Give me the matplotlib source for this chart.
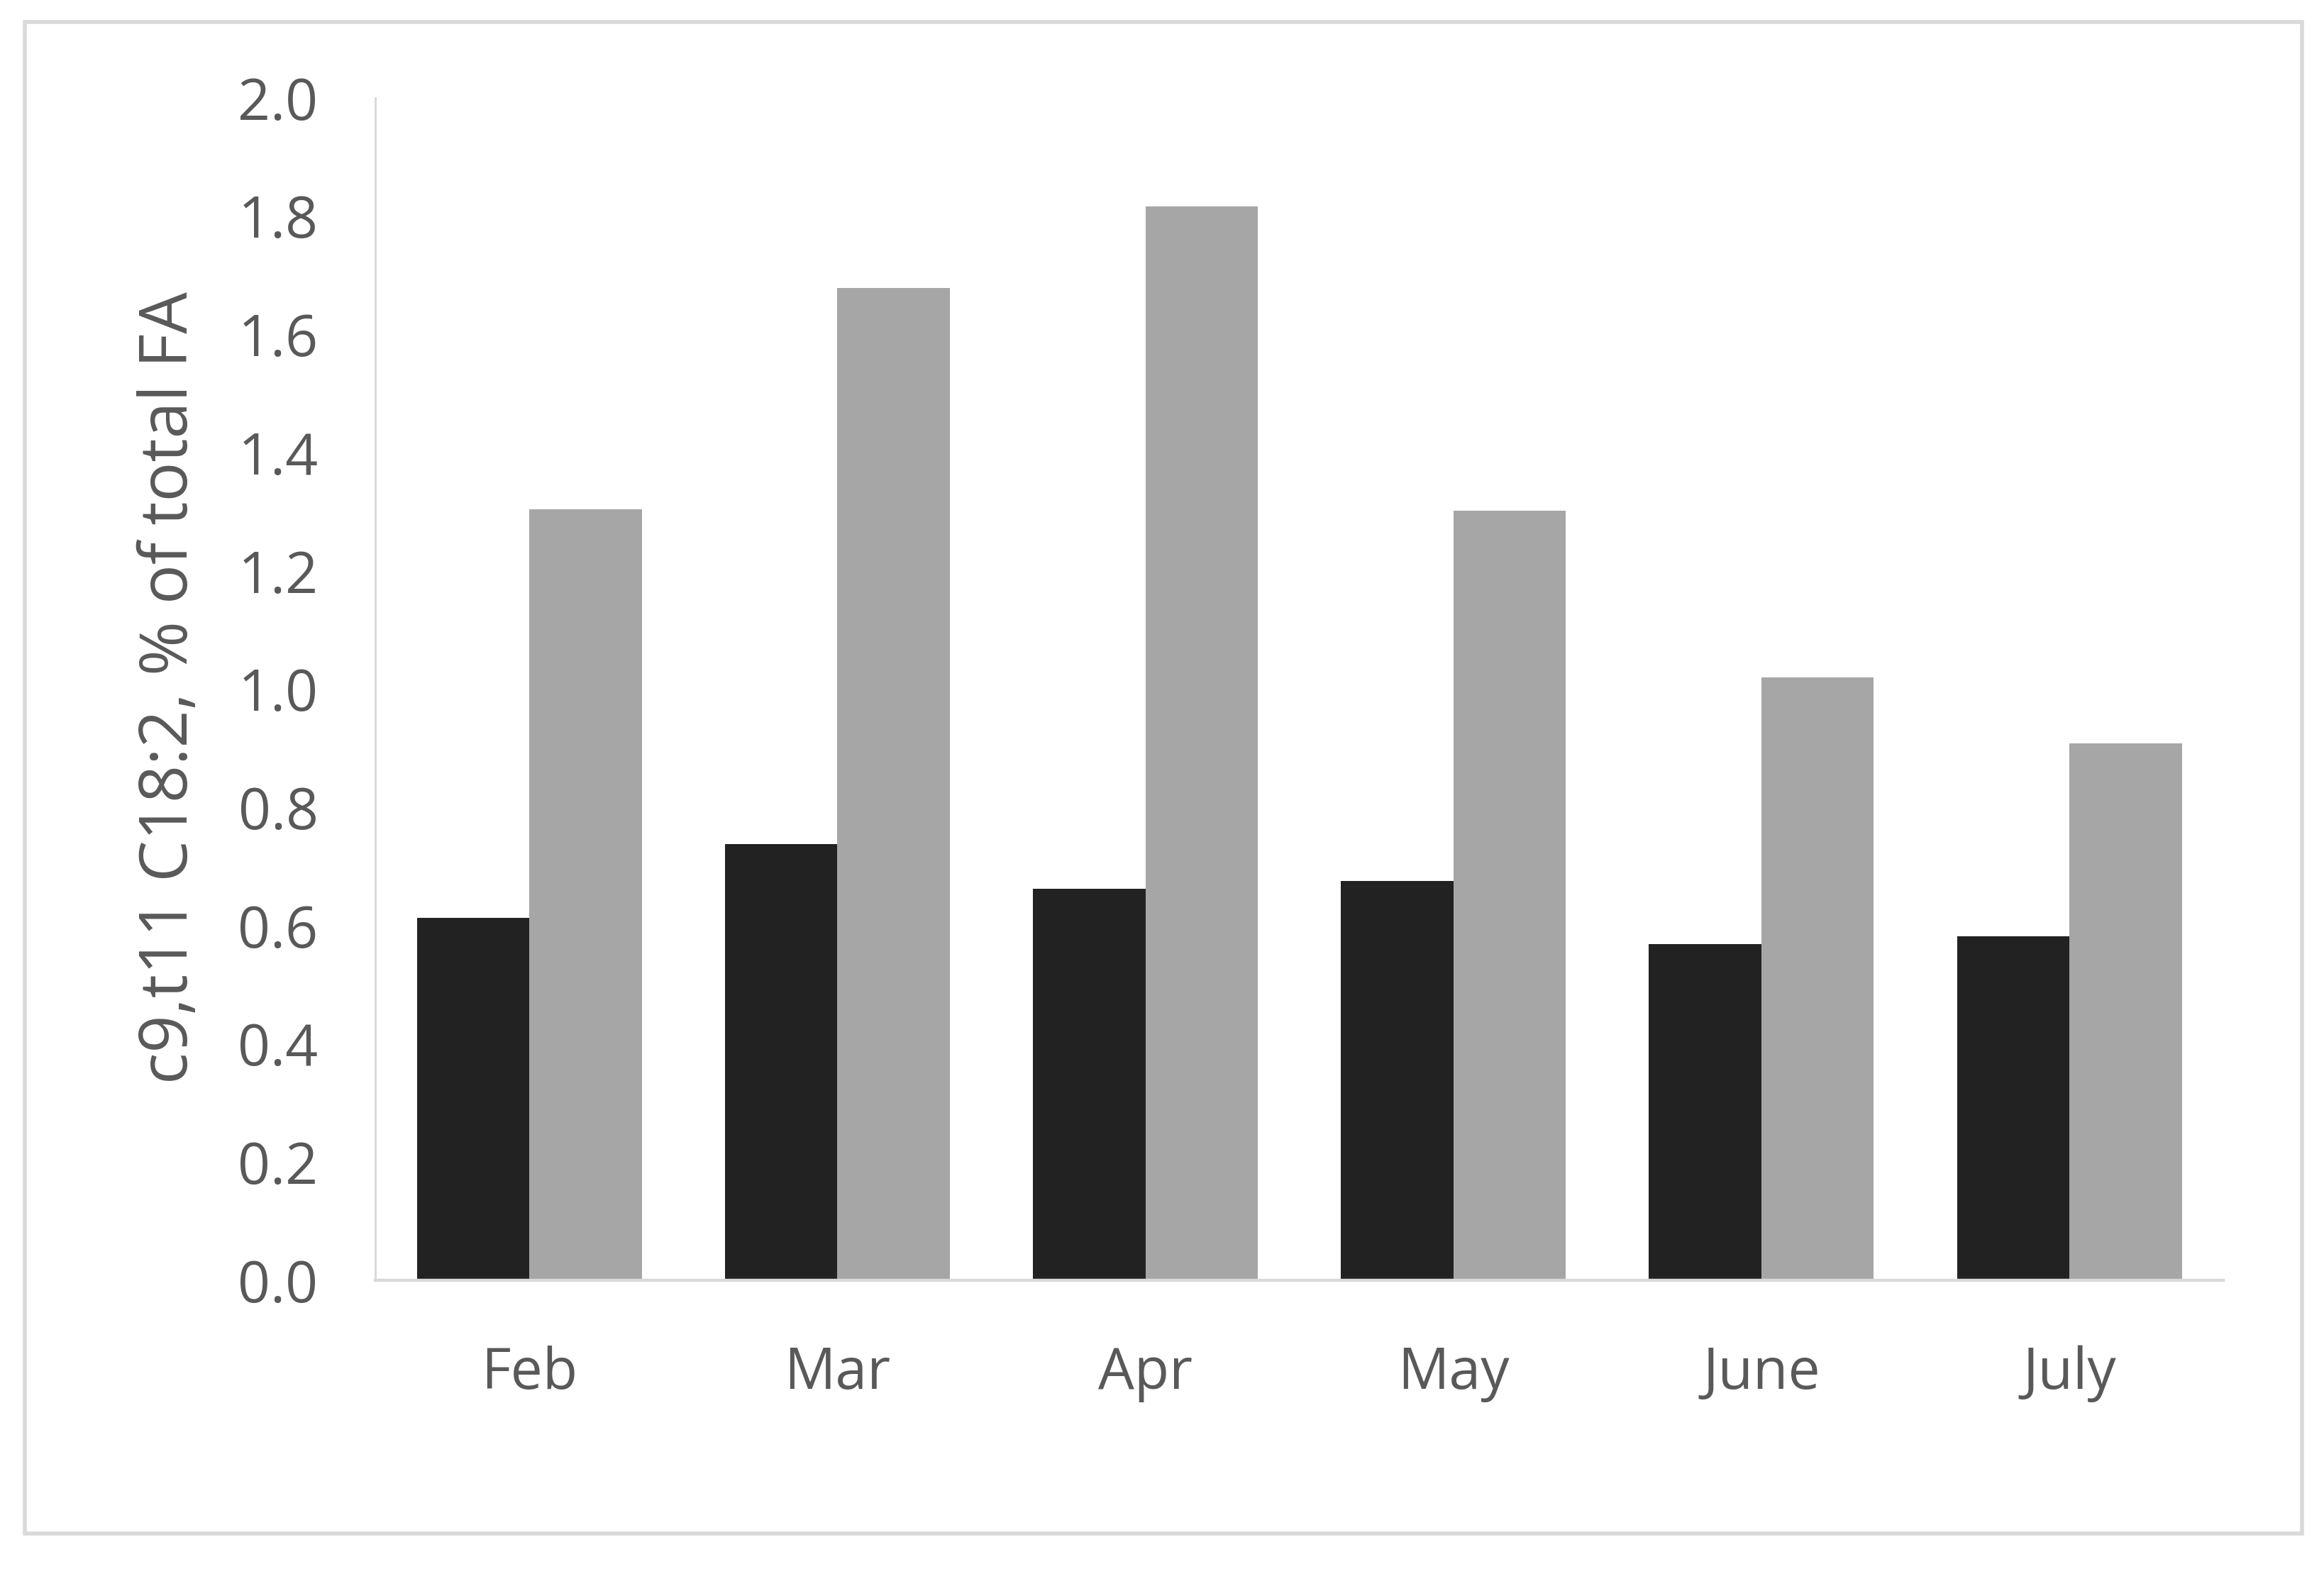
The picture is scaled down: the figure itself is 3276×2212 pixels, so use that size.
import matplotlib
matplotlib.use("Agg")
import matplotlib.pyplot as plt
from matplotlib.patches import Rectangle
import numpy as np

# values
months = ["Feb", "Mar", "Apr", "May", "June", "July"]
series_dark = [0.613, 0.738, 0.662, 0.675, 0.569, 0.582]
series_light = [1.304, 1.679, 1.817, 1.302, 1.020, 0.908]
yticks = [0.0, 0.2, 0.4, 0.6, 0.8, 1.0, 1.2, 1.4, 1.6, 1.8, 2.0]
ylabel = "c9,t11 C18:2, % of total FA"

plt.rcParams['font.family'] = ['Open Sans', 'DejaVu Sans']
textColor = "#595959"
axisColor = "#d9d9d9"

fig = plt.figure(figsize=(16.38, 11.06), dpi=200)
ax = fig.add_axes([0.1615, 0.184, 0.9567 - 0.1615, 0.9376 - 0.184])

x = np.arange(len(months))
w = 0.365
ax.bar(x - w / 2, series_dark, width=w, color="#222222", linewidth=0)
ax.bar(x + w / 2, series_light, width=w, color="#a6a6a6", linewidth=0)

ax.set_xlim(-0.5, len(months) - 0.5)
ax.set_ylim(0, 2.0)
ax.set_yticks(yticks)
ax.set_yticklabels(["%.1f" % v for v in yticks])
ax.set_xticks(x)
ax.set_xticklabels(months)
ax.tick_params(axis="both", length=0, labelsize=29, labelcolor=textColor)
ax.tick_params(axis="y", pad=29)
ax.tick_params(axis="x", pad=33)

for side in ["top", "right"]:
    ax.spines[side].set_visible(False)
ax.spines["left"].set_color(axisColor)
ax.spines["left"].set_linewidth(1.0)
ax.spines["bottom"].set_color(axisColor)
ax.spines["bottom"].set_linewidth(1.6)

fig.text(0.073, 0.5615, ylabel, rotation=90, ha="center", va="center",
         fontsize=33.5, color=textColor)

# outer chart border
W, H = 3276.0, 2212.0
border = Rectangle((35 / W, 1 - 2162 / H), (3245 - 35) / W, (2162 - 31) / H,
                   transform=fig.transFigure, fill=False,
                   edgecolor=axisColor, linewidth=2.0)
fig.patches.append(border)

fig.savefig("out.png", dpi=200)
